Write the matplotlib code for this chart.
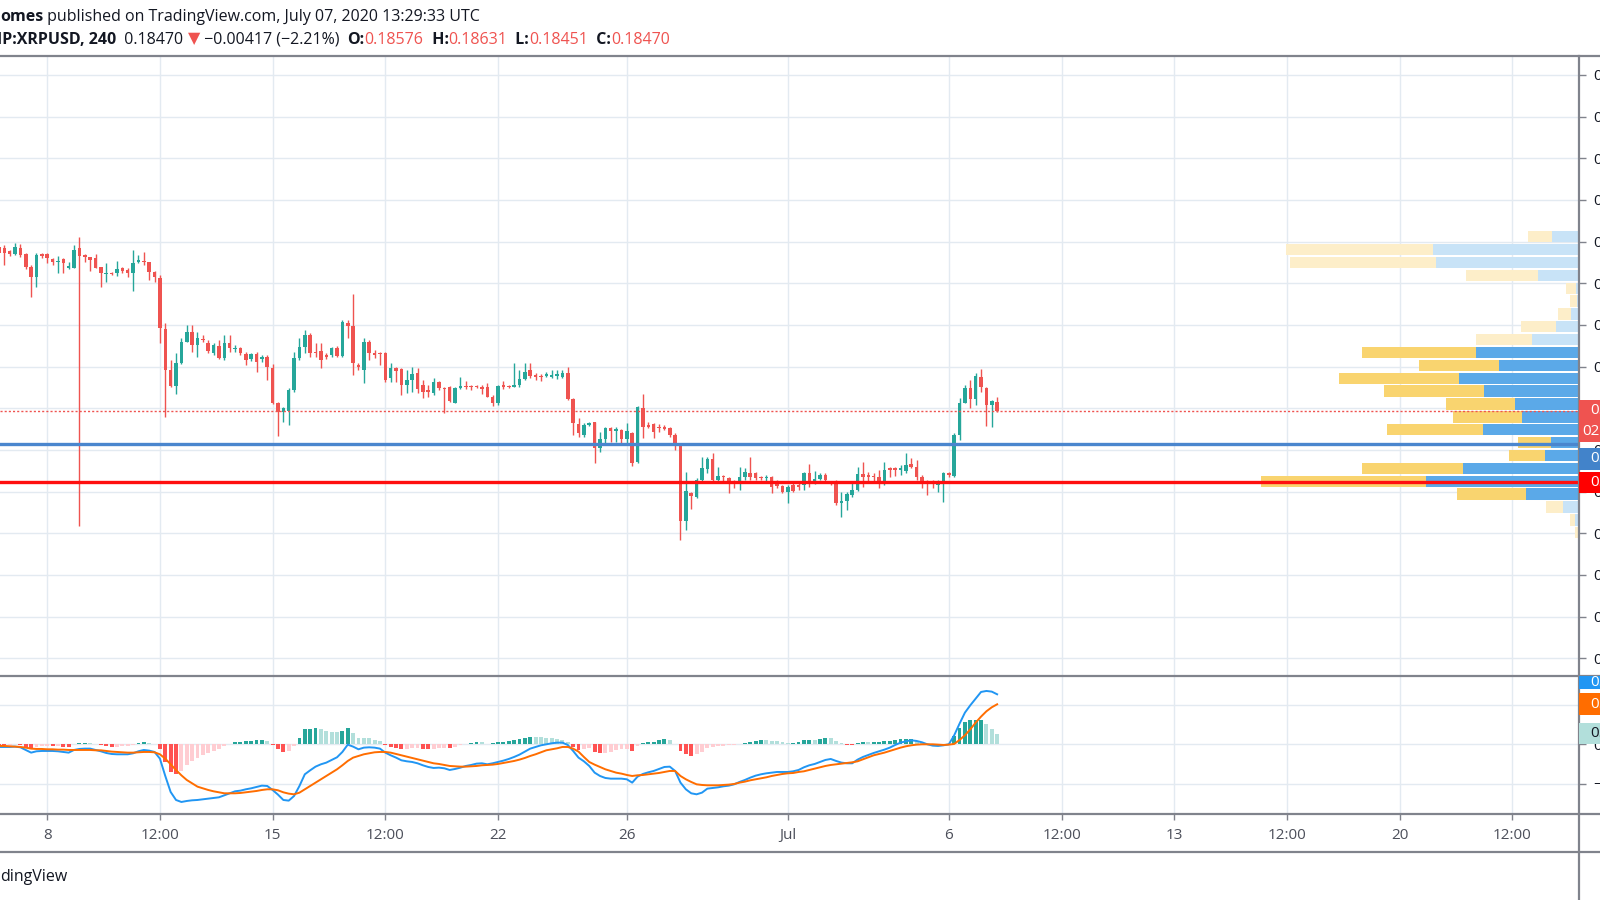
import numpy as np
import pandas as pd
import matplotlib
matplotlib.use("Agg")
import matplotlib.pyplot as plt
import matplotlib.dates as mdates
from matplotlib.lines import Line2D
from matplotlib.patches import Rectangle

plt.rcParams['font.family'] = ['Open Sans', 'DejaVu Sans']

# BITSTAMP:XRPUSD, 240 (4h candles), first visible candle 2020-06-06 12:00
first_candle = '2020-06-06 12:00'

opens = [
    0.2044, 0.2042, 0.20392, 0.20352, 0.2042, 0.20352, 0.202, 0.2008, 0.20348, 0.20348,
    0.20296, 0.20252, 0.20296, 0.2018, 0.2018, 0.2042, 0.2034, 0.20312, 0.2030, 0.20192,
    0.20116, 0.20128, 0.2012, 0.2018, 0.2016, 0.2012, 0.2026, 0.20272, 0.20256, 0.2014,
    0.2006, 0.19448, 0.1896, 0.18772, 0.1904, 0.1930, 0.1942, 0.1926, 0.19336, 0.19288,
    0.19168, 0.19248, 0.1910, 0.19288, 0.19208, 0.1922, 0.19152, 0.19088, 0.19148, 0.19088,
    0.1912, 0.1898, 0.18568, 0.1846, 0.18472, 0.1872, 0.1910, 0.1924, 0.1938, 0.1918,
    0.19192, 0.1914, 0.1914, 0.19228, 0.19128, 0.1952, 0.19488, 0.1902, 0.1896, 0.1930,
    0.1916, 0.1916, 0.1916, 0.1886, 0.1898, 0.18968, 0.1878, 0.1884, 0.1892, 0.1878,
    0.1872, 0.18688, 0.1882, 0.1874, 0.18752, 0.18568, 0.1874, 0.18772, 0.18768, 0.18768,
    0.1876, 0.18752, 0.1864, 0.1856, 0.1878, 0.18768, 0.1876, 0.1878, 0.18852, 0.1896,
    0.1890, 0.18888, 0.18888, 0.1888, 0.18888, 0.18872, 0.1892, 0.18608, 0.18312, 0.1818,
    0.1830, 0.18336, 0.1802, 0.18128, 0.1826, 0.18232, 0.1824, 0.18128, 0.18208, 0.1786,
    0.1850, 0.1830, 0.18312, 0.1828, 0.1828, 0.1826, 0.1818, 0.1806, 0.17152, 0.17488,
    0.1744, 0.1764, 0.17768, 0.17888, 0.1764, 0.17688, 0.1766, 0.1762, 0.1762, 0.17672,
    0.17728, 0.1772, 0.1768, 0.1766, 0.1768, 0.1762, 0.17568, 0.1750, 0.1758, 0.1758,
    0.1758, 0.17728, 0.17608, 0.17648, 0.1770, 0.1762, 0.1762, 0.1736, 0.17392, 0.1746,
    0.1752, 0.17712, 0.1770, 0.17688, 0.1768, 0.17592, 0.1778, 0.1778, 0.1776, 0.17752,
    0.17832, 0.1780, 0.1768, 0.1762, 0.17608, 0.1758, 0.17592, 0.1772, 0.17688, 0.1818,
    0.18568, 0.18748, 0.18608, 0.18872, 0.1874, 0.1854, 0.18576,
]
highs = [
    0.2048, 0.2046, 0.2040, 0.20488, 0.20472, 0.2036, 0.2022, 0.2036, 0.2036, 0.2036,
    0.2030, 0.20328, 0.2030, 0.2026, 0.2046, 0.20552, 0.20352, 0.2032, 0.20352, 0.2020,
    0.2024, 0.2014, 0.20272, 0.20192, 0.2018, 0.2040, 0.2034, 0.2038, 0.2026, 0.20148,
    0.2010, 0.1952, 0.1908, 0.1916, 0.1934, 0.1950, 0.1950, 0.1942, 0.1938, 0.1932,
    0.1928, 0.1932, 0.1938, 0.1938, 0.1926, 0.1924, 0.1918, 0.19168, 0.1918, 0.1914,
    0.1914, 0.19032, 0.1858, 0.1852, 0.1874, 0.1918, 0.1934, 0.1944, 0.1940, 0.1928,
    0.1928, 0.1916, 0.1924, 0.19248, 0.1956, 0.1956, 0.19872, 0.1904, 0.1934, 0.1932,
    0.1920, 0.1918, 0.1918, 0.1904, 0.1900, 0.1898, 0.1896, 0.1900, 0.1898, 0.1884,
    0.1878, 0.1886, 0.18828, 0.18752, 0.18768, 0.18752, 0.18872, 0.18828, 0.1878, 0.18776,
    0.1878, 0.18808, 0.1866, 0.1878, 0.18832, 0.1878, 0.1904, 0.1896, 0.1904, 0.1904,
    0.1892, 0.18912, 0.1894, 0.1896, 0.1896, 0.1896, 0.1900, 0.1862, 0.1838, 0.1832,
    0.1834, 0.1834, 0.1822, 0.18272, 0.1828, 0.1828, 0.18248, 0.1832, 0.1822, 0.18528,
    0.18668, 0.1834, 0.18328, 0.18312, 0.1830, 0.18272, 0.1820, 0.18072, 0.1774, 0.1750,
    0.1766, 0.1792, 0.1792, 0.17968, 0.1780, 0.1770, 0.1768, 0.1764, 0.1780, 0.1778,
    0.1792, 0.1774, 0.17688, 0.1770, 0.17688, 0.1764, 0.1758, 0.1758, 0.1760, 0.1762,
    0.1774, 0.17832, 0.17752, 0.1772, 0.1772, 0.17632, 0.1764, 0.1750, 0.1750, 0.1762,
    0.17792, 0.1786, 0.1774, 0.17728, 0.1776, 0.1786, 0.1780, 0.1780, 0.1782, 0.1796,
    0.1790, 0.1788, 0.1770, 0.1764, 0.1764, 0.1764, 0.1774, 0.1774, 0.1820, 0.1862,
    0.1878, 0.1884, 0.1892, 0.18968, 0.1876, 0.1860, 0.18631,
]
lows = [
    0.2032, 0.2022, 0.20328, 0.2034, 0.2032, 0.20168, 0.1984, 0.19952, 0.2030, 0.2024,
    0.2022, 0.2012, 0.2012, 0.20168, 0.2018, 0.1709, 0.2026, 0.20152, 0.2018, 0.19952,
    0.2002, 0.2010, 0.20092, 0.2012, 0.2008, 0.19912, 0.2024, 0.2022, 0.2004, 0.2002,
    0.1928, 0.1840, 0.1876, 0.18672, 0.19032, 0.1930, 0.1918, 0.1912, 0.1930, 0.1916,
    0.1914, 0.19088, 0.1908, 0.1918, 0.1918, 0.1914, 0.1902, 0.19072, 0.1894, 0.1906,
    0.1884, 0.18552, 0.18168, 0.1834, 0.1830, 0.1870, 0.1908, 0.1916, 0.1912, 0.1912,
    0.1898, 0.19088, 0.1912, 0.19112, 0.1912, 0.1934, 0.1890, 0.1896, 0.1880, 0.1908,
    0.1910, 0.1902, 0.1882, 0.1882, 0.1882, 0.1866, 0.1868, 0.1870, 0.1868, 0.1862,
    0.1864, 0.1866, 0.1872, 0.1844, 0.1858, 0.1856, 0.18728, 0.18728, 0.1872, 0.1874,
    0.18668, 0.18632, 0.18528, 0.1854, 0.18728, 0.1874, 0.18752, 0.18752, 0.1884, 0.1886,
    0.1884, 0.18828, 0.1888, 0.1886, 0.18848, 0.1886, 0.1860, 0.1818, 0.1816, 0.1816,
    0.18288, 0.1784, 0.1798, 0.1808, 0.1810, 0.1810, 0.1808, 0.18072, 0.17808, 0.1784,
    0.1814, 0.1826, 0.1814, 0.1822, 0.1824, 0.1816, 0.1800, 0.1692, 0.1704, 0.17288,
    0.1742, 0.1762, 0.1772, 0.1762, 0.1762, 0.1762, 0.1748, 0.1754, 0.1752, 0.1764,
    0.1764, 0.1764, 0.1764, 0.1762, 0.1748, 0.1754, 0.1748, 0.1736, 0.1750, 0.1752,
    0.1752, 0.1756, 0.17592, 0.1764, 0.1762, 0.1758, 0.1734, 0.1720, 0.1728, 0.1744,
    0.17512, 0.1756, 0.1760, 0.1762, 0.1754, 0.1758, 0.1768, 0.17688, 0.1770, 0.1772,
    0.1778, 0.1764, 0.1754, 0.1746, 0.1754, 0.1750, 0.1738, 0.1768, 0.1768, 0.1812,
    0.1856, 0.1850, 0.1854, 0.1870, 0.1829, 0.18272, 0.18451,
]
closes = [
    0.2036, 0.20368, 0.20352, 0.20432, 0.2034, 0.202, 0.2008, 0.2034, 0.20328, 0.2030,
    0.20252, 0.20264, 0.2024, 0.20208, 0.2040, 0.20328, 0.20312, 0.2028, 0.20188, 0.2012,
    0.20128, 0.20116, 0.20168, 0.20152, 0.20128, 0.2024, 0.2028, 0.20252, 0.2014, 0.2008,
    0.1946, 0.1896, 0.18772, 0.19048, 0.1930, 0.1942, 0.1926, 0.1934, 0.1932, 0.19188,
    0.1926, 0.1910, 0.19288, 0.1922, 0.1922, 0.1916, 0.1908, 0.19148, 0.1906, 0.1912,
    0.1900, 0.18568, 0.1846, 0.1850, 0.1872, 0.1910, 0.1924, 0.1938, 0.19168, 0.1916,
    0.1908, 0.19112, 0.1922, 0.19128, 0.1954, 0.19488, 0.1904, 0.1900, 0.1930, 0.1916,
    0.1914, 0.19148, 0.1884, 0.1898, 0.18952, 0.1878, 0.1884, 0.18912, 0.18728, 0.1870,
    0.1870, 0.1882, 0.1874, 0.18728, 0.18592, 0.1874, 0.18768, 0.18752, 0.18752, 0.18752,
    0.18728, 0.1864, 0.1856, 0.18768, 0.1876, 0.18752, 0.1878, 0.18852, 0.1894, 0.18888,
    0.18872, 0.18872, 0.18908, 0.1890, 0.18912, 0.18928, 0.18608, 0.18328, 0.1820, 0.1830,
    0.18328, 0.1802, 0.18128, 0.1826, 0.18232, 0.18248, 0.18128, 0.18232, 0.1784, 0.18512,
    0.18272, 0.1828, 0.1822, 0.1826, 0.18248, 0.1818, 0.1806, 0.17152, 0.17512, 0.17448,
    0.1764, 0.1778, 0.17888, 0.1764, 0.17688, 0.17672, 0.1760, 0.1760, 0.17672, 0.1774,
    0.17672, 0.1766, 0.1766, 0.1768, 0.1756, 0.17568, 0.1750, 0.1756, 0.17512, 0.1756,
    0.1772, 0.17608, 0.17648, 0.1770, 0.1764, 0.17608, 0.1736, 0.17392, 0.17472, 0.1752,
    0.17712, 0.1768, 0.1768, 0.17672, 0.1760, 0.1776, 0.1776, 0.1776, 0.17788, 0.1782,
    0.1780, 0.1768, 0.1762, 0.1760, 0.17588, 0.17608, 0.1772, 0.1770, 0.1818, 0.18568,
    0.18748, 0.18608, 0.18888, 0.1876, 0.1854, 0.18588, 0.18470,
]

# MACD (12, 26, close, 9) in units of 1e-4
macd_line = [
    -1.35, -1.35, -1.35, -1.18, -1.52, -2.87, -4.22, -3.54, -3.38, -3.38,
    -3.38, -3.54, -3.88, -4.22, -2.87, -2.36, -2.19, -2.19, -2.87, -3.54,
    -4.39, -4.9, -5.06, -5.06, -5.06, -4.56, -3.54, -2.87, -3.21, -3.88,
    -7.26, -16.04, -24.14, -28.19, -29.2, -28.7, -28.36, -28.19, -27.85, -27.51,
    -27.18, -26.84, -25.83, -24.81, -23.8, -23.46, -22.79, -22.28, -21.61, -20.93,
    -21.1, -23.13, -25.49, -28.19, -28.53, -26.16, -21.1, -15.19, -13.17, -11.31,
    -10.13, -9.28, -7.93, -6.58, -3.88, -0.17, -1.18, -2.53, -1.69, -1.52,
    -1.69, -2.19, -4.22, -5.57, -6.75, -8.1, -8.61, -8.95, -9.62, -10.63,
    -11.48, -11.98, -11.82, -12.15, -13.0, -12.49, -11.82, -10.97, -10.47, -9.79,
    -9.62, -10.13, -9.62, -8.95, -8.27, -7.43, -6.41, -5.23, -3.71, -2.19,
    -1.35, -0.51, 0.0, 0.51, 0.84, 0.84, -0.34, -3.38, -6.75, -8.61,
    -10.97, -14.35, -16.04, -17.05, -17.39, -17.39, -17.39, -17.72, -19.41, -16.37,
    -15.02, -14.18, -13.5, -12.49, -11.48, -11.31, -13.5, -19.41, -22.79, -24.81,
    -25.32, -24.48, -22.45, -22.11, -21.78, -21.27, -20.93, -20.26, -19.07, -18.06,
    -16.88, -15.87, -15.19, -14.69, -14.35, -14.01, -14.01, -14.01, -13.67, -13.0,
    -11.65, -10.63, -9.96, -8.95, -7.93, -7.43, -8.44, -9.28, -9.62, -9.62,
    -7.76, -6.41, -5.4, -4.39, -3.54, -2.7, -1.69, -0.34, 0.84, 1.52,
    2.03, 1.69, 1.01, 0.0, -0.68, -0.84, -0.51, 0.0, 4.56, 10.47,
    16.04, 19.75, 23.13, 26.5, 27.01, 26.67, 25.32,
]
signal_line = [
    -0.84, -0.84, -1.01, -1.18, -1.35, -1.69, -2.19, -2.36, -2.36, -2.53,
    -2.53, -2.7, -2.7, -2.87, -2.87, -2.87, -2.87, -2.87, -3.04, -3.04,
    -3.38, -3.71, -3.88, -4.05, -4.22, -4.22, -4.05, -3.88, -3.88, -4.05,
    -5.06, -7.26, -10.13, -13.0, -15.7, -18.06, -19.75, -21.44, -22.28, -23.13,
    -23.8, -24.31, -24.81, -24.81, -24.81, -24.64, -24.31, -23.97, -23.63, -23.13,
    -22.79, -22.79, -23.29, -24.31, -24.98, -25.32, -24.48, -22.79, -21.1, -19.41,
    -17.72, -16.04, -14.35, -12.66, -10.63, -8.44, -6.75, -5.91, -5.06, -4.56,
    -4.05, -3.88, -3.88, -4.22, -4.9, -5.57, -6.25, -6.92, -7.6, -8.27,
    -8.95, -9.62, -9.96, -10.47, -10.97, -11.14, -11.31, -11.31, -11.14, -10.97,
    -10.63, -10.47, -10.3, -9.96, -9.45, -8.95, -8.44, -7.76, -6.92, -5.91,
    -5.06, -4.05, -3.04, -2.53, -2.03, -1.35, -1.35, -2.19, -3.71, -6.41,
    -8.95, -10.3, -11.48, -12.66, -13.5, -14.35, -14.85, -15.53, -16.04, -15.7,
    -15.53, -15.19, -14.85, -14.52, -14.01, -13.5, -13.5, -16.04, -17.72, -19.07,
    -20.26, -20.59, -20.76, -20.76, -20.76, -20.59, -20.42, -20.09, -19.41, -18.91,
    -18.23, -17.72, -17.22, -16.71, -16.04, -15.53, -15.02, -14.69, -14.52, -14.01,
    -13.67, -13.0, -12.32, -11.65, -10.97, -10.47, -10.13, -9.79, -9.45, -9.12,
    -8.61, -7.6, -6.58, -5.57, -4.9, -4.22, -3.38, -2.53, -1.69, -1.01,
    -0.51, -0.17, 0.0, 0.0, 0.0, -0.17, -0.34, -0.17, 0.17, 2.19,
    4.56, 7.6, 10.97, 14.01, 16.71, 18.74, 20.26,
]

# visible-range volume profile, 24 rows (up volume blue, down volume yellow)
vp_price = [0.20559, 0.20405, 0.20250, 0.20096, 0.19941, 0.19787, 0.19633, 0.19478,
            0.19324, 0.19169, 0.19015, 0.18861, 0.18706, 0.18552, 0.18397, 0.18243,
            0.18089, 0.17934, 0.17780, 0.17625, 0.17471, 0.17317, 0.17162, 0.17008]
vp_up = [26.7, 146.0, 142.7, 40.7, 3.3, 2.0, 8.3, 22.7, 47.3, 103.0, 79.7, 120.0,
         95.0, 64.0, 56.7, 96.0, 27.7, 34.0, 115.7, 153.3, 53.3, 16.3, 4.3, 1.0]
vp_down = [24.0, 147.3, 146.7, 72.7, 9.3, 7.3, 13.0, 35.3, 55.3, 114.0, 80.3, 120.3,
           99.7, 68.7, 69.7, 96.3, 33.7, 35.7, 101.3, 164.7, 68.3, 17.0, 5.0, 3.3]
vp_value_area = [False, False, False, False, False, False, False, False, False,
                 True, True, True, True, True, True, True, True, True, True, True, True,
                 False, False, False]

blue_level = 0.18072
red_level = 0.17610
last_price = 0.18470

price_ticks = [0.155, 0.160, 0.165, 0.170, 0.175, 0.180, 0.185, 0.190,
               0.195, 0.200, 0.205, 0.210, 0.215, 0.220, 0.225]
macd_ticks = [-20, 0, 20]
tick_dates = ['2020-06-08 00:00', '2020-06-11 12:00', '2020-06-15 00:00',
              '2020-06-18 12:00', '2020-06-22 00:00', '2020-06-26 00:00',
              '2020-07-01 00:00', '2020-07-06 00:00', '2020-07-09 12:00',
              '2020-07-13 00:00', '2020-07-16 12:00', '2020-07-20 00:00',
              '2020-07-23 12:00']
tick_labels = ['8', '12:00', '15', '12:00', '22', '26', 'Jul', '6',
               '12:00', '13', '12:00', '20', '12:00']

n = len(closes)
assert len(opens) == n and len(highs) == n and len(lows) == n
assert len(macd_line) == n and len(signal_line) == n

TEAL = '#26A69A'
RED = '#EF5350'
GRID = '#E3EAF1'
BORDER = '#80838C'
TXT = '#131722'

W, H = 1600, 900


def fx(px):
    return px / W


def fy(py):
    return 1 - py / H


fig = plt.figure(figsize=(16, 9), dpi=100)
fig.patch.set_facecolor('white')

ax = fig.add_axes([0, fy(676), fx(1579), (676 - 56) / H])
ax_vp = fig.add_axes([0, fy(676), fx(1579), (676 - 56) / H], sharey=ax)
ax_m = fig.add_axes([0, fy(814), fx(1579), (814 - 676) / H], sharex=ax)

t = pd.date_range(first_candle, periods=n, freq='4h')
x = mdates.date2num(t)
jun8 = mdates.date2num(pd.Timestamp('2020-06-08'))
ax.set_ylim(0.15288, 0.22728)

# candles
o, h, l, c = (np.array(v) for v in (opens, highs, lows, closes))
col = np.where(c >= o, TEAL, RED)
ax.vlines(x, l, h, colors=col, lw=1.0, zorder=3)
body = np.maximum(np.abs(c - o), 0.0001)
ax.bar(x, body, bottom=np.minimum(o, c), width=0.11, color=col, lw=0, zorder=4)

tick_x = mdates.date2num(pd.to_datetime(tick_dates, format='%Y-%m-%d %H:%M'))
ax.set_xticks(tick_x)
ax.set_yticks(price_ticks)
ax.set_yticklabels([f'{v:.5f}' for v in price_ticks])
ax.grid(True, color=GRID, lw=1.0, zorder=0)
ax.set_axisbelow(True)
ax.yaxis.tick_right()
ax.tick_params(axis='x', length=0, labelbottom=False)
ax.tick_params(axis='y', length=5, width=1, color=BORDER, pad=5,
               labelsize=11, labelcolor=TXT)
for sp in ax.spines.values():
    sp.set_visible(False)

# volume profile on top of the price pane, growing from the right edge
ax_vp.set_axis_off()
ax_vp.patch.set_visible(False)
ax_vp.set_xlim(1579, 0)
up_col = ['#5BA9E8' if va else '#C8E3F7' for va in vp_value_area]
dn_col = ['#F9D46F' if va else '#FDEEC9' for va in vp_value_area]
ax_vp.barh(vp_price, vp_up, height=0.00136, color=up_col, lw=0, zorder=2)
ax_vp.barh(vp_price, vp_down, left=vp_up, height=0.00136, color=dn_col, lw=0, zorder=2)
ax_vp.axhline(last_price, color=RED, lw=1.0, ls=(0, (1.5, 1.5)), zorder=5)
ax_vp.axhline(blue_level, color='#4A86CE', lw=2.4, zorder=5)
ax_vp.axhline(red_level, color='#FF0F0F', lw=2.4, zorder=5)

# MACD pane
m = np.array(macd_line)
s = np.array(signal_line)
hist = m - s
prev = np.r_[hist[0], hist[:-1]]
hcol = np.where(hist >= 0,
                np.where(hist > prev, '#26A69A', '#B2DFDB'),
                np.where(hist > prev, '#FFCDD2', '#FF5252'))
ax_m.bar(x, hist, width=0.12, color=hcol, lw=0, zorder=2)
ax_m.plot(x, m, color='#2196F3', lw=1.4, zorder=3)
ax_m.plot(x, s, color='#FF6D00', lw=1.4, zorder=3)
ax_m.set_ylim(-35.29, 34.58)
ax_m.set_yticks(macd_ticks)
ax_m.set_yticklabels(['\u22120.0020', '0.0000', '0.0020'])
ax_m.yaxis.tick_right()
ax_m.grid(True, color=GRID, lw=1.0, zorder=0)
ax_m.set_axisbelow(True)
ax_m.set_xticks(tick_x)
ax_m.set_xticklabels(tick_labels)
ax_m.tick_params(axis='y', length=5, width=1, color=BORDER, pad=5,
                 labelsize=11, labelcolor=TXT)
ax_m.tick_params(axis='x', length=4, width=1, color=BORDER, pad=6,
                 labelsize=11, labelcolor='#4C4F5A')
for sp in ax_m.spines.values():
    sp.set_visible(False)
ax.set_xlim(jun8 - 1.466, jun8 + 47.57)


def fig_line(xs, ys):
    fig.add_artist(Line2D([fx(v) for v in xs], [fy(v) for v in ys],
                          transform=fig.transFigure, color=BORDER, lw=1.6, zorder=6))


for yy in (56, 676, 814, 852):
    fig_line([0, W], [yy, yy])
fig_line([1579, 1579], [56, 900])


def label_box(y0, y1, color, text, tcolor='white', tx=1590):
    fig.add_artist(Rectangle((fx(1579), fy(y1)), fx(W - 1579), (y1 - y0) / H,
                             transform=fig.transFigure, color=color, lw=0, zorder=7))
    fig.text(fx(tx), fy((y0 + y1) / 2), text, color=tcolor, fontsize=11,
             va='center', ha='left', zorder=8)


label_box(400, 421, RED, f'{last_price:.5f}')
label_box(421, 442, RED, '02:30:27', tx=1582)
label_box(448, 470, '#4283CA', f'{blue_level:.5f}')
label_box(472, 493, '#FF0000', f'{red_level:.5f}')
label_box(676, 689, '#2196F3', f'{macd_line[-1] * 1e-4:.4f}')
label_box(693, 715, '#FF6D00', f'{signal_line[-1] * 1e-4:.4f}')
label_box(723, 744, '#B2DFDB', f'{(macd_line[-1] - signal_line[-1]) * 1e-4:.4f}', TXT)


def text_chain(x0, y0, parts, size=11.5):
    prev = None
    for txt, color, weight in parts:
        if prev is None:
            prev = fig.text(fx(x0), fy(y0), txt, color=color, fontsize=size,
                            fontweight=weight, va='center', ha='left')
        else:
            prev = ax.annotate(txt, xy=(1, 0), xycoords=prev, va='bottom', ha='left',
                               color=color, fontsize=size, fontweight=weight,
                               annotation_clip=False)


text_chain(0, 17, [('omes', TXT, 'bold'),
                   (' published on TradingView.com, July 07, 2020 13:29:33 UTC', TXT, 'normal')])
text_chain(-3, 39.5, [('IP:XRPUSD, 240', TXT, 'bold'),
                      ('  0.18470 ', TXT, 'normal'),
                      ('\u25BC', RED, 'normal'),
                      (' \u22120.00417 (\u22122.21%)  ', TXT, 'normal'),
                      ('O:', TXT, 'bold'), ('0.18576', RED, 'normal'),
                      ('  H:', TXT, 'bold'), ('0.18631', RED, 'normal'),
                      ('  L:', TXT, 'bold'), ('0.18451', RED, 'normal'),
                      ('  C:', TXT, 'bold'), ('0.18470', RED, 'normal')])

fig.text(0, fy(877), 'dingView', fontsize=11.5, color=TXT, va='center', ha='left')

fig.savefig('out.png', dpi=100)
